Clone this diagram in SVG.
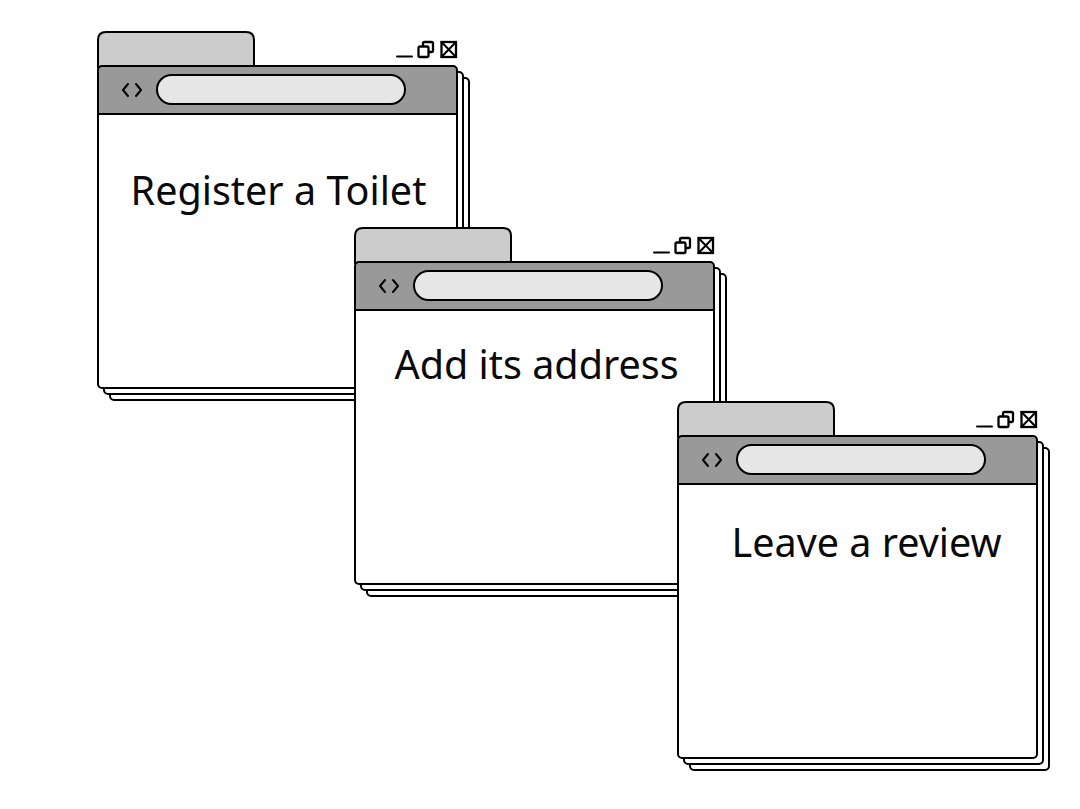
<svg xmlns="http://www.w3.org/2000/svg" xmlns:xlink="http://www.w3.org/1999/xlink" width="1080" height="809" viewBox="0 0 1080 809">
  <style>
    .ln { stroke: #000; stroke-width: 2; fill: none; stroke-linejoin: round; stroke-linecap: round; }
    .page { fill: #fff; stroke: #000; stroke-width: 2; }
    .tab { fill: #cccccc; stroke: #000; stroke-width: 2; }
    .bar { fill: #999999; }
    .pill { fill: #e6e6e6; stroke: #000; stroke-width: 2; }
    .ico { fill: #fff; stroke: #000; stroke-width: 2.3; }
    .lbl { font-family: "Noto Sans", "Open Sans", sans-serif; font-size: 39.5px; fill: #0a0a0a; text-anchor: middle; }
  </style>
  <defs>
    <g id="win">
      <rect class="page" x="12" y="12" width="359" height="322" rx="4"/>
      <rect class="page" x="6" y="6" width="359" height="322" rx="4"/>
      <path class="tab" d="M0,2 V-26 Q0,-34 8,-34 H148 Q156,-34 156,-26 V2"/>
      <rect x="0" y="0" width="359" height="322" rx="4" fill="#fff"/>
      <path class="bar" d="M0,48 V4 Q0,0 4,0 H355 Q359,0 359,4 V48 Z"/>
      <line class="ln" x1="0" y1="48" x2="359" y2="48"/>
      <rect class="ln" x="0" y="0" width="359" height="322" rx="4"/>
      <rect class="pill" x="59" y="9" width="248" height="29" rx="14.5"/>
      <path class="ln" d="M30,18 L25,24 L30,30 M38,18 L43,24 L38,30" stroke-width="2"/>
      <line class="ln" x1="299" y1="-9.5" x2="314" y2="-9.5" stroke-linecap="butt" stroke-width="2.3"/>
      <rect class="ico" x="325" y="-24" width="10" height="10" rx="1.5"/>
      <rect class="ico" x="320.5" y="-19.5" width="10" height="10.5" rx="1.5"/>
      <rect class="ico" x="343.5" y="-24" width="14.5" height="15"/>
      <path class="ln" d="M343.5,-24 L358,-9 M358,-24 L343.5,-9" stroke-width="2"/>
    </g>
  </defs>
  <rect width="1080" height="809" fill="#fff"/>
  <g id="connectors"></g>
  <g id="node-register">
    <use xlink:href="#win" href="#win" transform="translate(98,66)"/>
    <text class="lbl" x="278.5" y="205">Register a Toilet</text>
  </g>
  <g id="node-address">
    <use xlink:href="#win" href="#win" transform="translate(355,262)"/>
    <text class="lbl" x="536.5" y="379">Add its address</text>
  </g>
  <g id="node-review">
    <use xlink:href="#win" href="#win" transform="translate(678,436)"/>
    <text class="lbl" x="866.5" y="557">Leave a review</text>
  </g>
</svg>
